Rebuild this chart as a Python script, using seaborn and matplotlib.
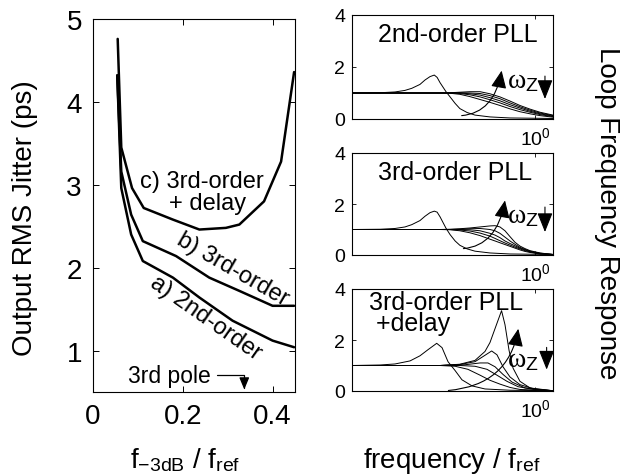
import numpy as np
import pandas as pd
import matplotlib
matplotlib.use("Agg")
import matplotlib.pyplot as plt
from matplotlib.ticker import NullLocator, FixedLocator
import seaborn as sns

# ---------------- data: left panel (jitter vs bandwidth) ----------------
a_x = [0.054, 0.063, 0.085, 0.111, 0.178, 0.237, 0.311, 0.4, 0.448]
a_y = [4.32, 2.96, 2.40, 2.08, 1.88, 1.64, 1.36, 1.12, 1.04]
b_x = [0.054, 0.063, 0.085, 0.111, 0.185, 0.259, 0.326, 0.4, 0.448]
b_y = [4.32, 3.16, 2.64, 2.32, 2.14, 1.88, 1.72, 1.54, 1.54]
c_x = [0.055, 0.063, 0.087, 0.113, 0.178, 0.237, 0.296, 0.326, 0.381, 0.419, 0.448]
c_y = [4.76, 3.45, 2.96, 2.72, 2.58, 2.46, 2.48, 2.52, 2.80, 3.28, 4.36]

# ---------------- data: right panels (loop frequency response) ----------------
# panel 1: 2nd-order PLL
p1_peak_f = [0.01, 0.0203, 0.0295, 0.0379, 0.045, 0.0553, 0.0628, 0.0712, 0.0793, 0.0852,
             0.0916, 0.1065, 0.118, 0.134, 0.151, 0.181, 0.221, 0.322, 0.533, 1.573]
p1_peak_y = [1.0, 1.01, 1.04, 1.1, 1.18, 1.33, 1.5, 1.63, 1.69, 1.6,
             1.4, 1.05, 0.85, 0.6, 0.4, 0.25, 0.15, 0.08, 0.04, 0.02]
p1_fan_f = [0.01, 0.0916, 0.118, 0.151, 0.195, 0.251, 0.322, 0.414, 0.533, 0.685, 0.882, 1.134, 1.573]
p1_fan_y = [
    [1.0, 1.0, 1.01, 1.03, 1.05, 1.05, 0.97, 0.85, 0.69, 0.52, 0.38, 0.26, 0.15],
    [1.0, 1.0, 1.0, 1.01, 1.0, 0.98, 0.90, 0.78, 0.62, 0.47, 0.34, 0.23, 0.13],
    [1.0, 1.0, 1.0, 1.0, 0.97, 0.92, 0.82, 0.70, 0.55, 0.42, 0.30, 0.20, 0.11],
    [1.0, 1.0, 1.0, 0.98, 0.93, 0.85, 0.74, 0.62, 0.48, 0.36, 0.26, 0.17, 0.09],
    [1.0, 1.0, 0.99, 0.95, 0.86, 0.75, 0.64, 0.52, 0.39, 0.28, 0.20, 0.13, 0.07],
]
# panel 2: 3rd-order PLL
p2_peak_f = p1_peak_f
p2_peak_y = [1.0, 1.01, 1.04, 1.1, 1.19, 1.35, 1.52, 1.66, 1.72, 1.68,
             1.5, 1.05, 0.8, 0.55, 0.38, 0.24, 0.15, 0.08, 0.04, 0.02]
p2_fan_f = [0.01, 0.0916, 0.118, 0.151, 0.195, 0.251, 0.322, 0.366, 0.414, 0.470, 0.533,
            0.604, 0.685, 0.778, 0.882, 1.134, 1.573]
p2_fan_y = [
    [1.0, 1.0, 1.01, 1.03, 1.06, 1.10, 1.14, 1.15, 1.10, 0.95, 0.72, 0.50, 0.35, 0.25, 0.17, 0.08, 0.02],
    [1.0, 1.0, 1.0, 1.01, 1.03, 1.04, 1.0, 0.95, 0.85, 0.70, 0.55, 0.42, 0.30, 0.22, 0.15, 0.07, 0.02],
    [1.0, 1.0, 1.0, 1.0, 0.99, 0.95, 0.85, 0.78, 0.68, 0.55, 0.45, 0.36, 0.27, 0.20, 0.13, 0.06, 0.02],
    [1.0, 1.0, 1.0, 0.98, 0.94, 0.86, 0.74, 0.65, 0.56, 0.47, 0.39, 0.31, 0.24, 0.17, 0.12, 0.05, 0.02],
    [1.0, 1.0, 0.99, 0.95, 0.87, 0.76, 0.62, 0.55, 0.48, 0.41, 0.34, 0.27, 0.20, 0.14, 0.10, 0.04, 0.01],
]
# panel 3: 3rd-order PLL + delay
p3_peak_f = [0.01, 0.0203, 0.0295, 0.0431, 0.0553, 0.0677, 0.0843, 0.0964, 0.112, 0.134,
             0.159, 0.205, 0.284, 0.533, 1.573]
p3_peak_y = [1.0, 1.02, 1.06, 1.18, 1.38, 1.62, 1.87, 1.7, 1.15, 0.8,
             0.44, 0.2, 0.08, 0.03, 0.01]
p3_c1_f = [0.01, 0.0916, 0.151, 0.221, 0.284, 0.322, 0.366, 0.431, 0.470, 0.520, 0.575, 0.685, 0.882, 1.573]
p3_c1_y = [1.0, 1.0, 1.05, 1.2, 1.55, 1.9, 2.45, 3.15, 2.6, 1.6, 0.9, 0.38, 0.12, 0.01]
p3_c2_f = [0.01, 0.0916, 0.151, 0.221, 0.284, 0.336, 0.384, 0.447, 0.533, 0.685, 1.0, 1.573]
p3_c2_y = [1.0, 1.0, 1.04, 1.15, 1.4, 1.57, 1.42, 0.95, 0.55, 0.25, 0.07, 0.01]
p3_c3_f = [0.01, 0.0916, 0.172, 0.251, 0.306, 0.366, 0.447, 0.561, 0.778, 1.573]
p3_c3_y = [1.0, 1.0, 1.03, 1.1, 1.1, 0.95, 0.65, 0.35, 0.12, 0.01]
p3_c4_f = [0.01, 0.0916, 0.151, 0.221, 0.299, 0.384, 0.494, 0.652, 1.0, 1.573]
p3_c4_y = [1.0, 1.0, 1.0, 0.97, 0.85, 0.62, 0.38, 0.17, 0.05, 0.01]
p3_c5_f = [0.01, 0.0916, 0.134, 0.185, 0.251, 0.322, 0.414, 0.533, 0.685, 1.573]
p3_c5_y = [1.0, 1.0, 0.97, 0.85, 0.62, 0.42, 0.27, 0.14, 0.06, 0.01]

panel_titles = ["2nd-order PLL", "3rd-order PLL", "3rd-order PLL\n +delay"]

# ---------------- style ----------------
sns.set_style("ticks")
plt.rcParams["font.family"] = ["Liberation Sans", "DejaVu Sans"]
plt.rcParams["mathtext.fontset"] = "custom"
plt.rcParams["mathtext.rm"] = "Liberation Sans"
plt.rcParams["mathtext.it"] = "Liberation Serif"
for key in ["text.color", "axes.labelcolor", "xtick.color", "ytick.color", "axes.edgecolor"]:
    plt.rcParams[key] = "black"
plt.rcParams["xtick.direction"] = "in"
plt.rcParams["ytick.direction"] = "in"
plt.rcParams["xtick.top"] = True
plt.rcParams["ytick.right"] = True

fig = plt.figure(figsize=(6.24, 4.77), dpi=100)

# ---------------- left panel ----------------
axL = fig.add_axes([93 / 624, 1 - 393 / 477, 202 / 624, 373 / 477])
dfL = pd.concat([
    pd.DataFrame({"x": a_x, "y": a_y, "c": "a"}),
    pd.DataFrame({"x": b_x, "y": b_y, "c": "b"}),
    pd.DataFrame({"x": c_x, "y": c_y, "c": "c"}),
])
sns.lineplot(data=dfL, x="x", y="y", hue="c", palette=["black"] * 3, estimator=None,
             sort=False, legend=False, lw=1.8, ax=axL)
axL.set_xlim(0, 0.45)
axL.set_ylim(0.5, 5)
axL.xaxis.set_major_locator(FixedLocator([0, 0.2, 0.4]))
axL.set_xticklabels(["0", "0.2", "0.4"])
axL.yaxis.set_major_locator(FixedLocator([1, 2, 3, 4, 5]))
axL.tick_params(labelsize=20, length=4, width=0.7, pad=8)
axL.set_xlabel("")
axL.set_ylabel("")
for s in axL.spines.values():
    s.set_linewidth(0.8)

axL.text(0.242, 3.04, "c) 3rd-order", fontsize=17, ha="center", va="center")
axL.text(0.256, 2.78, "+ delay", fontsize=17, ha="center", va="center")
axL.text(0.311, 1.99, "b) 3rd-order", fontsize=17, ha="center", va="center", rotation=-30,
         rotation_mode="anchor")
axL.text(0.25, 1.40, "a) 2nd-order", fontsize=17, ha="center", va="center", rotation=-35,
         rotation_mode="anchor")
axL.annotate("3rd pole", xy=(0.337, 0.53), xytext=(0.17, 0.7), fontsize=16.5,
             ha="center", va="center",
             arrowprops=dict(arrowstyle="-|>,head_length=0.6,head_width=0.25",
                             connectionstyle="angle,angleA=0,angleB=90,rad=0",
                             color="black", lw=0.9, shrinkA=2, shrinkB=0, mutation_scale=12))

fig.text(25 / 624, 0.543, "Output RMS Jitter (ps)", rotation=90, fontsize=20,
         ha="center", va="center")
fig.text(185 / 624, 0.019, r"f$_{\mathrm{-3dB}}$ / f$_{\mathrm{ref}}$", fontsize=20,
         ha="center", va="baseline")

# ---------------- right panels ----------------
tops = [16, 154, 290]
bots = [120, 256, 392]

panels = [
    ([(p1_peak_f, p1_peak_y)] + [(p1_fan_f, yy) for yy in p1_fan_y]),
    ([(p2_peak_f, p2_peak_y)] + [(p2_fan_f, yy) for yy in p2_fan_y]),
    [(p3_peak_f, p3_peak_y), (p3_c1_f, p3_c1_y), (p3_c2_f, p3_c2_y), (p3_c3_f, p3_c3_y),
     (p3_c4_f, p3_c4_y), (p3_c5_f, p3_c5_y)],
]
arrows = [((0.158, 0.13), (0.432, 1.86)),
          ((0.165, 0.25), (0.47, 2.14)),
          ((0.113, 0.02), (0.657, 2.44))]
wz_pos = [(1.1, 1.5), (1.1, 1.57), (1.1, 1.24)]
down = [(1.285, 1.65, 0.77), (1.285, 1.88, 0.9), (1.34, 1.71, 0.84)]

for i in range(3):
    ax = fig.add_axes([352 / 624, 1 - bots[i] / 477, 201 / 624, (bots[i] - tops[i]) / 477])
    frames = []
    for k, (ff, yy) in enumerate(panels[i]):
        frames.append(pd.DataFrame({"f": ff, "H": yy, "curve": str(k)}))
    df = pd.concat(frames)
    sns.lineplot(data=df, x="f", y="H", hue="curve", palette=["black"] * len(frames),
                 estimator=None, sort=False, legend=False, lw=0.7, ax=ax)
    ax.set_xscale("log")
    ax.set_xlim(0.01, 1.573)
    ax.set_ylim(0, 4)
    ax.xaxis.set_major_locator(FixedLocator([1.0]))
    ax.xaxis.set_minor_locator(NullLocator())
    ax.yaxis.set_major_locator(FixedLocator([0, 2, 4]))
    ax.tick_params(labelsize=14, length=3, width=0.6, pad=5)
    ax.set_xlabel("")
    ax.set_ylabel("")
    for s in ax.spines.values():
        s.set_linewidth(0.8)
    if i < 2:
        ax.text([0.527, 0.512][i], [0.817, 0.81][i], panel_titles[i], fontsize=18,
                ha="center", va="center", transform=ax.transAxes)
    else:
        ax.text(0.085, 0.995, panel_titles[i], fontsize=18, ha="left", va="top",
                linespacing=0.85, multialignment="left", transform=ax.transAxes)
    (t, h) = arrows[i]
    ax.annotate("", xy=h, xytext=t,
                arrowprops=dict(arrowstyle="-|>,head_length=0.9,head_width=0.4",
                                connectionstyle="angle3,angleA=5,angleB=80", color="black",
                                lw=0.8, shrinkA=0, shrinkB=0, mutation_scale=12))
    ax.text(wz_pos[i][0], wz_pos[i][1], r"$\omega_\mathrm{Z}$", fontsize=20,
            ha="right", va="center")
    xd, y0, y1 = down[i]
    ax.annotate("", xy=(xd, y1), xytext=(xd, y0),
                arrowprops=dict(arrowstyle="-|>,head_length=1.0,head_width=0.4",
                                color="black", lw=0.8, shrinkA=0, shrinkB=0,
                                mutation_scale=12))

fig.text(607 / 624, 0.553, "Loop Frequency Response", rotation=270, fontsize=20,
         ha="center", va="center")
fig.text(452 / 624, 0.019, r"frequency / f$_{\mathrm{ref}}$", fontsize=20,
         ha="center", va="baseline")

fig.savefig("out.png", dpi=100)
